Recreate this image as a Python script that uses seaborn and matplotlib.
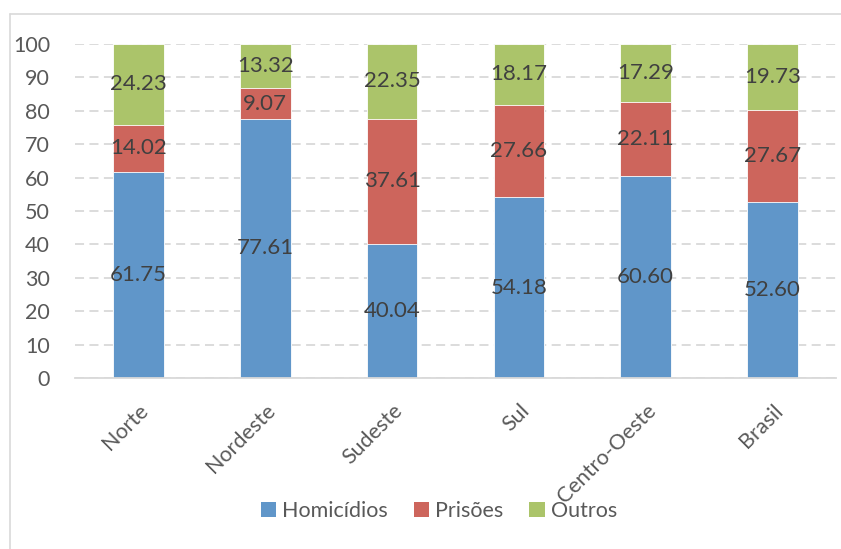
import matplotlib
matplotlib.use("Agg")
import matplotlib.pyplot as plt
import seaborn as sns
import numpy as np
import pandas as pd
from matplotlib.lines import Line2D
from matplotlib.patches import Patch

regioes = ["Norte", "Nordeste", "Sudeste", "Sul", "Centro-Oeste", "Brasil"]
homicidios = [61.75, 77.61, 40.04, 54.18, 60.60, 52.60]
prisoes = [14.02, 9.07, 37.61, 27.66, 22.11, 27.67]
outros = [24.23, 13.32, 22.35, 18.17, 17.29, 19.73]
series = ["Homicídios", "Prisões", "Outros"]
cores = ["#6096C9", "#CD655C", "#ABC46A"]
y_ticks = [0, 10, 20, 30, 40, 50, 60, 70, 80, 90, 100]

sns.set_theme(style="white")
plt.rcParams["font.family"] = ["Lato", "DejaVu Sans"]

df = pd.DataFrame({"regiao": regioes, "Homicídios": homicidios,
                   "Prisões": prisoes, "Outros": outros})
df["h_p"] = df["Homicídios"] + df["Prisões"]
df["total"] = df["h_p"] + df["Outros"]

fig = plt.figure(figsize=(8.41, 5.49), dpi=100)
ax = fig.add_axes([75 / 841, 1 - 378 / 549, (836 - 75) / 841, (378 - 44) / 549])

# stacked bars drawn as cumulative layers, back to front
for col, cor in zip(["total", "h_p", "Homicídios"], cores[::-1]):
    sns.barplot(data=df, x="regiao", y=col, color=cor, saturation=1,
                width=0.4, ax=ax, edgecolor="white", linewidth=0.6)

# centred value labels
for i in range(len(regioes)):
    base = 0.0
    for vals in (homicidios, prisoes, outros):
        v = vals[i]
        ax.text(i, base + v / 2, f"{v:.2f}", ha="center", va="center",
                fontsize=16, color="#404040")
        base += v

ax.set_ylim(0, 100)
ax.set_xlim(-0.5, len(regioes) - 0.5)
ax.set_yticks(y_ticks)
ax.set_xlabel("")
ax.set_ylabel("")
ax.set_axisbelow(True)
ax.yaxis.grid(True, color="#D9D9D9", linestyle=(0, (5, 3)), linewidth=1.3)
for s in ["top", "right", "left"]:
    ax.spines[s].set_visible(False)
ax.spines["bottom"].set_color("#D9D9D9")
ax.spines["bottom"].set_linewidth(1.3)
ax.tick_params(axis="both", length=0, labelsize=15.5, colors="#595959")
ax.tick_params(axis="y", pad=18)
for lbl in ax.get_yticklabels():
    lbl.set_ha("right")
for lbl in ax.get_xticklabels():
    lbl.set_rotation(45)
    lbl.set_ha("right")
    lbl.set_rotation_mode("anchor")
ax.tick_params(axis="x", pad=16)

handles = [Patch(facecolor=c, edgecolor="none") for c in cores]
fig.legend(handles, series, loc="center", bbox_to_anchor=(439 / 841, 1 - 511 / 549),
           ncol=3, frameon=False, fontsize=15.5, handlelength=0.7, handleheight=0.7,
           handletextpad=0.3, columnspacing=1.2, labelcolor="#595959")

# chart area border
fig.add_artist(Line2D([10 / 841, 10 / 841], [0, 1 - 14 / 549], transform=fig.transFigure,
                      color="#D9D9D9", linewidth=1.2))
fig.add_artist(Line2D([10 / 841, 1], [1 - 14 / 549, 1 - 14 / 549], transform=fig.transFigure,
                      color="#D9D9D9", linewidth=1.2))

fig.savefig("out.png", dpi=100)
